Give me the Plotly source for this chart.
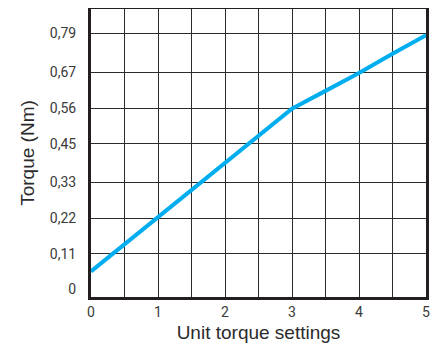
import plotly.graph_objects as go

settings = [0, 0.5, 1, 1.5, 2, 2.5, 3, 3.5, 4, 4.5, 5]
torque = [0.055, 0.139, 0.223, 0.307, 0.390, 0.474, 0.558, 0.613, 0.668, 0.728, 0.785]

x_ticks = [0, 1, 2, 3, 4, 5]
x_grid = [0.5, 1.5, 2.5, 3.5, 4.5]
y_ticks = [0, 0.11, 0.22, 0.33, 0.45, 0.56, 0.67, 0.79]
y_labels = ["0", "0,11", "0,22", "0,33", "0,45", "0,56", "0,67", "0,79"]

LINE_COLOR = "#00AEEF"
INK = "#231F20"
GRID = "#2A2A2A"
TITLE_FONT = "Liberation Sans, Arial, sans-serif"

fig = go.Figure()
fig.add_trace(go.Scatter(
    x=settings, y=torque, mode="lines",
    line=dict(color=LINE_COLOR, width=4),
    showlegend=False,
))

# the page body has an 8px margin, so the figure is sized to fit inside it
fig.update_layout(
    width=436, height=341,
    margin=dict(l=83, r=18, t=1, b=52),
    paper_bgcolor="white", plot_bgcolor="white",
    font=dict(family="Roboto, Arial, sans-serif", color=INK),
)

fig.update_xaxes(
    range=[0, 5], tickvals=x_ticks, automargin=False,
    showgrid=True, gridcolor=GRID, gridwidth=1.3,
    minor=dict(tickvals=x_grid, showgrid=True, gridcolor=GRID, gridwidth=1.3),
    showline=True, mirror=True, linecolor=INK, linewidth=3,
    ticks="", zeroline=False,
    tickfont=dict(size=14, color="#3A3A3A"),
    title=dict(text="Unit torque settings",
               font=dict(family=TITLE_FONT, size=19, color="#2B2B2B"), standoff=7),
)

fig.update_yaxes(
    range=[-0.024, 0.866], tickvals=y_ticks, ticktext=y_labels, automargin=False,
    showgrid=False,
    minor=dict(tickvals=y_ticks[1:], showgrid=True, gridcolor=GRID, gridwidth=1.3),
    showline=True, mirror=True, linecolor=INK, linewidth=3,
    ticks="", zeroline=False, ticklabelstandoff=9,
    tickfont=dict(size=14, color="#3A3A3A"),
    title=dict(text="Torque (Nm)",
               font=dict(family=TITLE_FONT, size=19, color="#2B2B2B"), standoff=11),
)

fig.write_html("out.html")
